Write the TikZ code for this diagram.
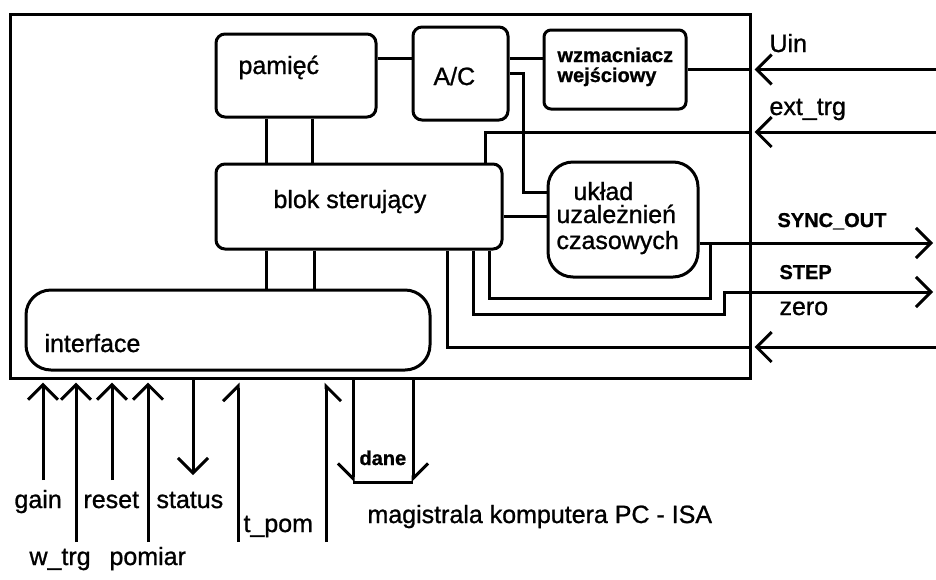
\documentclass[tikz,border=0pt]{standalone}
\usepackage{fontspec}
\setmainfont{Liberation Sans}[FakeBold=1]
\usetikzlibrary{arrows.meta}

\begin{document}
\begin{tikzpicture}[
  x=1pt, y=-1pt, line width=3pt,
  box/.style={draw, rounded corners=9pt, inner sep=0pt},
  lbl/.style={anchor=base west, inner sep=0pt, font=\fontsize{25}{28}\selectfont},
  sml/.style={anchor=base west, inner sep=0pt, font=\bfseries\fontsize{20}{22}\selectfont},
  sig/.style={-{Straight Barb[length=15pt,width=30pt]}, shorten >=3pt},
  sigl/.style={-{Straight Barb[left,length=15pt,width=30pt]}, shorten >=3pt},
  sigr/.style={-{Straight Barb[right,length=15pt,width=30pt]}, shorten >=3pt}
]
\useasboundingbox (0,0) rectangle (936,579);

% Outer frame
\node[draw, inner sep=0pt, minimum width=740pt, minimum height=364pt] (outer) at (380,196) {};

% Blocks
\node[box, minimum width=160pt, minimum height=83pt] (pam) at (296,75.5) {};
\node[box, minimum width=95pt, minimum height=93pt] (ac) at (460.5,73.5) {};
\node[box, rounded corners=7pt, minimum width=142pt, minimum height=79pt] (wzm) at (615,69.5) {};
\node[box, minimum width=286pt, minimum height=85pt] (blok) at (359,206.5) {};
\node[box, rounded corners=25pt, minimum width=150pt, minimum height=115pt] (ukl) at (623,219.5) {};
\node[box, rounded corners=25pt, minimum width=404pt, minimum height=80pt] (iface) at (228,330) {};

% Block texts
\node[lbl] (pamtxt) at (237,74) {pamięć};
\node[lbl] (actxt) at (432,85) {A/C};
\node[sml] (wzmtxt) at (556,62) {wzmacniacz};
\node[sml] (wejtxt) at (556,82) {wejściowy};
\node[lbl] (bloktxt) at (272,208) {blok sterujący};
\node[lbl] (ukltxt) at (572,200) {układ};
\node[lbl] (uzltxt) at (555,223) {uzależnień};
\node[lbl] (czstxt) at (555,249) {czasowych};
\node[lbl] (ifctxt) at (43,352) {interface};

% Signal names
\node[lbl] (uintxt) at (768,52) {Uin};
\node[lbl] (exttxt) at (768,115) {ext\_trg};
\node[sml] (synctxt) at (776,227) {SYNC\_OUT};
\node[sml] (steptxt) at (778,279) {STEP};
\node[lbl] (zerotxt) at (778,315) {zero};
\node[lbl] (gaintxt) at (13,508) {gain};
\node[lbl] (resettxt) at (82,508) {reset};
\node[lbl] (stattxt) at (155,508) {status};
\node[lbl] (tpomtxt) at (242,532) {t\_pom};
\node[lbl] (wtrgtxt) at (28,565) {w\_trg};
\node[lbl] (pomtxt) at (108,565) {pomiar};
\node[sml] (danetxt) at (358,465) {dane};
\node[lbl] (isatxt) at (366,523) {magistrala komputera PC - ISA};

% Free ends and bends
\coordinate (bus) at (0,58);
\coordinate (uin) at (936,69.5);
\coordinate (ext) at (936,132);
\coordinate (sync) at (936,243);
\coordinate (syncj) at (710,243);
\coordinate (stepj) at (724,292);
\coordinate (stepout) at (936,292);
\coordinate (inb) at (936,347);
\coordinate (gain) at (43,480);
\coordinate (wtrg) at (76,542);
\coordinate (reset) at (112,480);
\coordinate (pomiar) at (148,542);
\coordinate (status) at (193,478);
\coordinate (tpom) at (238,542);
\coordinate (isa) at (326,542);
\coordinate (danel) at (353,482);
\coordinate (daner) at (413,482);

% Internal connections
\draw (pam.east |- bus) -- (ac.west |- bus);
\draw (ac.east |- bus) -- (wzm.west |- bus);
\draw (wzm.east) -- (wzm.east -| outer.east);
\draw (ac.east) -- ++(14,0) |- ([yshift=27.5pt]ukl.west);
\draw ([yshift=-9.5pt]blok.east) -- ([yshift=-9.5pt]blok.east -| ukl.west);
\draw ([xshift=-30pt]pam.south) -- ([xshift=-30pt]pam.south |- blok.north);
\draw ([xshift=16pt]pam.south) -- ([xshift=16pt]pam.south |- blok.north);
\draw ([xshift=-93pt]blok.south) -- ([xshift=-93pt]blok.south |- iface.north);
\draw ([xshift=-45pt]blok.south) -- ([xshift=-45pt]blok.south |- iface.north);
\draw (ext -| outer.east) -| ([xshift=-18pt]blok.north east);
\draw ([yshift=-23.5pt]ukl.east) -- (sync -| outer.east);
\draw ([xshift=-14pt]blok.south east) -- ++(0,48) -| (syncj);
\draw ([xshift=-30pt]blok.south east) -- ++(0,64) -| (stepj) -- (stepj -| outer.east);
\draw (inb -| outer.east) -| ([xshift=-56pt]blok.south east);

% Right side signals
\draw[sig] (uin) -- (uin -| outer.east);
\draw[sig] (ext) -- (ext -| outer.east);
\draw[sig] (sync -| outer.east) -- (sync);
\draw[sig] (stepj -| outer.east) -- (stepout);
\draw[sig] (inb) -- (inb -| outer.east);

% Bottom signals
\draw[sig] (gain) -- (gain |- outer.south);
\draw[sig] (wtrg) -- (wtrg |- outer.south);
\draw[sig] (reset) -- (reset |- outer.south);
\draw[sig] (pomiar) -- (pomiar |- outer.south);
\draw[sig] (status |- outer.south) -- (status);
\draw[sigl] (tpom) -- (tpom |- outer.south);
\draw[sigr] (isa) -- (isa |- outer.south);
\draw[sigr, shorten >=0pt] (danel |- outer.south) -- (danel);
\draw[sigl, shorten >=0pt] (daner |- outer.south) -- (daner);
\draw (danel) -- (daner);

\end{tikzpicture}
\end{document}
